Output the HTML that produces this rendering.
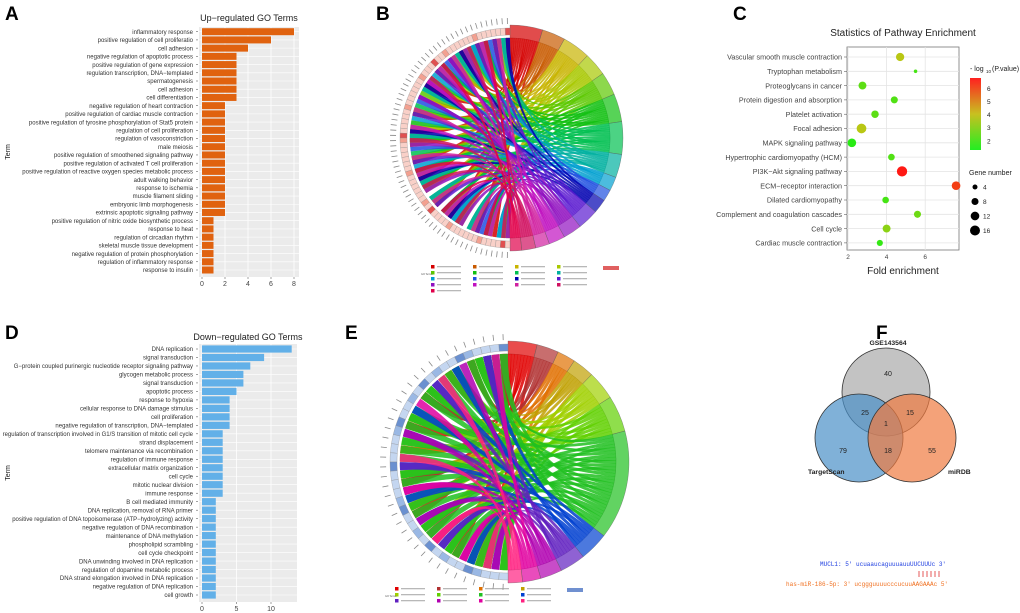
<!DOCTYPE html>
<html><head><meta charset="utf-8">
<style>
html,body{margin:0;padding:0;background:#fff;}
svg{display:block;font-family:"Liberation Sans",Arial,sans-serif;}
</style></head>
<body>
<svg id="fig" width="1020" height="613" viewBox="0 0 1020 613" xmlns="http://www.w3.org/2000/svg"></svg>
<script>
// ---------- Panel A data ----------
const upTerms = ["inflammatory response","positive regulation of cell proliferatio","cell adhesion","negative regulation of apoptotic process","positive regulation of gene expression","regulation transcription, DNA\u2212templated","spermatogenesis","cell adhesion","cell differentiation","negative regulation of heart contraction","positive regulation of cardiac muscle contraction","positive regulation of tyrosine phosphorylation of Stat5 protein","regulation of cell proliferation","regulation of vasoconstriction","male meiosis","positive regulation of smoothened signaling pathway","positive regulation of activated T cell proliferation","positive regulation of reactive oxygen species metabolic process","adult walking behavior","response to ischemia","muscle filament sliding","embryonic limb morphogenesis","extrinsic apoptotic signaling pathway","positive regulation of nitric oxide biosynthetic process","response to heat","regulation of circadian rhythm","skeletal muscle tissue development","negative regulation of protein phosphorylation","regulation of inflammatory response","response to insulin"];
const upCounts = [8,6,4,3,3,3,3,3,3,2,2,2,2,2,2,2,2,2,2,2,2,2,2,1,1,1,1,1,1,1];
const upTicks = [0,2,4,6,8];
// ---------- Panel D data ----------
const downTerms = ["DNA replication","signal transduction","G\u2212protein coupled purinergic nucleotide receptor signaling pathway","glycogen metabolic process","signal transduction","apoptotic process","response to hypoxia","cellular response to DNA damage stimulus","cell proliferation","negative regulation of transcription, DNA\u2212templated","regulation of transcription involved in G1/S transition of mitotic cell cycle","strand displacement","telomere maintenance via recombination","regulation of immune response","extracellular matrix organization","cell cycle","mitotic nuclear division","immune response","B cell mediated immunity","DNA replication, removal of RNA primer","positive regulation of DNA topoisomerase (ATP\u2212hydrolyzing) activity","negative regulation of DNA recombination","maintenance of DNA methylation","phospholipid scrambling","cell cycle checkpoint","DNA unwinding involved in DNA replication","regulation of dopamine metabolic process","DNA strand elongation involved in DNA replication","negative regulation of DNA replication","cell growth"];
const downCounts = [13,9,7,6,6,5,4,4,4,4,3,3,3,3,3,3,3,3,2,2,2,2,2,2,2,2,2,2,2,2];
const downTicks = [0,5,10];
// ---------- Panel C data ----------
const pathways = ["Vascular smooth muscle contraction","Tryptophan metabolism","Proteoglycans in cancer","Protein digestion and absorption","Platelet activation","Focal adhesion","MAPK signaling pathway","Hypertrophic cardiomyopathy (HCM)","PI3K\u2212Akt signaling pathway","ECM\u2212receptor interaction","Dilated cardiomyopathy","Complement and coagulation cascades","Cell cycle","Cardiac muscle contraction"];
const foldEnrich = [4.7,5.5,2.75,4.4,3.4,2.7,2.2,4.25,4.8,7.6,3.95,5.6,4.0,3.65];
const geneNum = [11,2,10,8,9,15,12,7,17,12,7,8,10,6];
const negLogP = [3.8,1.8,2.2,2.0,2.2,3.8,1.3,2.0,6.8,6.2,1.8,2.5,3.0,1.5];
const foldTicks = [2,4,6];
const colorTicks = [2,3,4,5,6];
const sizeTicks = [4,8,12,16];
// ---------- Chord data ----------
const chordBCounts = [14,10,12,10,10,12,14,10,6,5,6,9,8,7,6,6,5];
const chordBColors = ["#d40000","#c85a00","#c8b400","#a8c800","#5cc800","#10c010","#00c050","#00b0a0","#00a0d0","#2050e0","#0000b0","#5a1ad0","#9010c0","#c010c0","#d020a0","#d01060","#e0004a"];
const chordECounts = [8,6,5,6,8,10,30,8,7,6,5,4];
const chordEColors = ["#e00000","#b03030","#e07000","#c0a000","#a0d000","#60d000","#20c020","#0040d0","#6020c0","#b000b0","#e000a0","#ff2080"];
// ---------- Venn data ----------
const vennSets = ["GSE143564","TargetScan","miRDB"];
const vennValues = [40,25,15,1,79,18,55];

const NS="http://www.w3.org/2000/svg";
const svg=document.getElementById('fig');
function mk(tag,attrs,parent){const e=document.createElementNS(NS,tag);for(const k in attrs)e.setAttribute(k,attrs[k]);(parent||svg).appendChild(e);return e;}
function txt(x,y,s,attrs,parent){const t=mk('text',Object.assign({x:x,y:y},attrs||{}),parent);t.textContent=s;return t;}

// ---- Panel letters
[["A",5,20],["B",376,20],["C",733,20],["D",5,339],["E",345,339],["F",876,339]].forEach(p=>{
  const t=txt(p[1],p[2],p[0],{"font-size":19,"font-weight":"bold",fill:"#000"});
  
  
});

// ---- Bar chart builder
function barChart(o){
  const g=mk('g',{});
  
  
  const bg=mk('rect',{x:o.x0,y:o.y0,width:o.x1-o.x0,height:o.y1-o.y0,fill:"#ebebeb"},g);
  
  
  const xs=v=>o.px0+v*o.ppu;
  const n=o.terms.length;
  const ys=i=>o.c0+i*(o.c1-o.c0)/(n-1);
  o.ticks.forEach(t=>{
    const gl=mk('line',{x1:xs(t),x2:xs(t),y1:o.y0,y2:o.y1,stroke:"#fff","stroke-width":0.8},g);
    
    
    const tl=txt(xs(t),o.y1+9,String(t),{"font-size":7,"text-anchor":"middle",fill:"#444"},g);
    
    
    mk('line',{x1:xs(t),x2:xs(t),y1:o.y1,y2:o.y1+2,stroke:"#444","stroke-width":0.5},g);
  });
  for(let i=0;i<n;i++){
    mk('line',{x1:o.x0,x2:o.x1,y1:ys(i),y2:ys(i),stroke:"#fff","stroke-width":0.6},g);
    const b=mk('rect',{x:xs(0),y:ys(i)-o.bh/2,width:xs(o.counts[i])-xs(0),height:o.bh,fill:o.color},g);
    
    
    const l=txt(o.x0-6,ys(i)+2.2,o.terms[i],{"font-size":6,"text-anchor":"end",fill:"#333"},g);
    
    
    mk('line',{x1:o.x0-3,x2:o.x0-1,y1:ys(i),y2:ys(i),stroke:"#444","stroke-width":0.5},g);
  }
  const ti=txt((o.x0+o.x1)/2,o.ty,o.title,{"font-size":9,"text-anchor":"middle",fill:"#222"},g);
  
  
  const ya=txt(0,0,"Term",{"font-size":7,"text-anchor":"middle",fill:"#222",transform:`translate(10,${(o.y0+o.y1)/2}) rotate(-90)`},g);
  
  
}
barChart({name:"up-regulated-go-chart",terms:upTerms,counts:upCounts,ticks:upTicks,x0:199,x1:299,y0:27,y1:277,px0:202,ppu:11.5,c0:31.7,c1:270,bh:7,color:"#e0620f",title:"Up\u2212regulated GO Terms",ty:21});
barChart({name:"down-regulated-go-chart",terms:downTerms,counts:downCounts,ticks:downTicks,x0:199,x1:297,y0:344,y1:602,px0:202,ppu:6.9,c0:349,c1:595,bh:7.2,color:"#62b0e8",title:"Down\u2212regulated GO Terms",ty:340});

// ---- Panel C bubble chart
(function(){
  const g=mk('g',{});
  
  
  const x0=847,x1=959,y0=47,y1=250;
  const xs=v=>848+(v-2)*19.3;
  const ys=i=>57+i*14.3;
  const fr=mk('rect',{x:x0,y:y0,width:x1-x0,height:y1-y0,fill:"#fff",stroke:"#777","stroke-width":0.8},g);
  
  
  foldTicks.forEach(t=>{
    mk('line',{x1:xs(t),x2:xs(t),y1:y0,y2:y1,stroke:"#e4e4e4","stroke-width":0.8},g);
    const tl=txt(xs(t),y1+9,String(t),{"font-size":6.5,"text-anchor":"middle",fill:"#444"},g);
    
    
  });
  function col(v){const t=Math.max(0,Math.min(1,(v-1.3)/(6.8-1.3)));
    let r,gg;if(t<0.5){r=Math.round(40+t*2*160);gg=Math.round(235-t*2*40);}else{r=Math.round(200+(t-0.5)*2*55);gg=Math.round(195-(t-0.5)*2*170);}
    return `rgb(${r},${gg},20)`;}
  pathways.forEach((p,i)=>{
    mk('line',{x1:x0,x2:x1,y1:ys(i),y2:ys(i),stroke:"#e4e4e4","stroke-width":0.8},g);
    const l=txt(x0-5,ys(i)+2.7,p,{"font-size":7.2,"text-anchor":"end",fill:"#444"},g);
    
    
    mk('line',{x1:x0-3,x2:x0,y1:ys(i),y2:ys(i),stroke:"#444","stroke-width":0.5},g);
  });
  pathways.forEach((p,i)=>{
    const c=mk('circle',{cx:xs(foldEnrich[i]),cy:ys(i),r:Math.sqrt(geneNum[i])*1.25,fill:col(negLogP[i])},g);
    
    
  });
  const t=txt(903,36,"Statistics of Pathway Enrichment",{"font-size":10,"text-anchor":"middle",fill:"#222"},g);
  
  
  const xa=txt(903,274,"Fold enrichment",{"font-size":10,"text-anchor":"middle",fill:"#222"},g);
  
  
  const lt=txt(970,71,"- log",{"font-size":7,fill:"#222"},g);
  
  
  txt(986,73,"10",{"font-size":4.5,fill:"#222"},g);
  txt(992,71,"(P.value)",{"font-size":7,fill:"#222"},g);
  const defs=mk('defs',{},g);
  const lg=mk('linearGradient',{id:"cg",x1:0,y1:1,x2:0,y2:0},defs);
  mk('stop',{offset:"0",'stop-color':"#22ee22"},lg);
  mk('stop',{offset:"0.5",'stop-color':"#c8c020"},lg);
  mk('stop',{offset:"1",'stop-color':"#ff2020"},lg);
  const cb=mk('rect',{x:970,y:78,width:11,height:72,fill:"url(#cg)"},g);
  
  
  colorTicks.forEach(v=>{
    const y=150-(v-1.3)/(6.8-1.3)*72;
    const tl=txt(987,y+2.5,String(v),{"font-size":6.5,fill:"#222"},g);
    
    
  });
  const st=txt(969,175,"Gene number",{"font-size":7,fill:"#222"},g);
  
  
  sizeTicks.forEach((v,i)=>{
    const y=187+i*14.5;
    const c=mk('circle',{cx:975,cy:y,r:Math.sqrt(v)*1.25,fill:"#000"},g);
    
    
    txt(983,y+2.5,String(v),{"font-size":6.5,fill:"#222"},g);
  });
})();

// ---- Chord builder
function chord(o){
  const g=mk('g',{});
  
  
  const cx=o.cx,cy=o.cy,R=o.r;
  const P=(a,r)=>[cx+r*Math.cos(a),cy+r*Math.sin(a)];
  const total=o.counts.reduce((a,b)=>a+b,0);
  const N=o.genes;
  const ga=k=>-Math.PI/2-(k+0.5)/N*Math.PI;
  const gw=Math.PI/N;
  let a=-Math.PI/2;
  const ribbons=[];
  o.counts.forEach((c,i)=>{
    const span=c/total*Math.PI;
    const a0=a,a1=a+span;a=a1;
    const col=o.colors[i];
    const p0=P(a0,R),p1=P(a1,R),q0=P(a0,R+13),q1=P(a1,R+13);
    const seg=mk('path',{d:`M${p0} A${R},${R} 0 0 1 ${p1} L${q1} A${R+13},${R+13} 0 0 0 ${q0}Z`,fill:col,"fill-opacity":0.7,stroke:"#555","stroke-width":0.3},g);
    
    
    for(let j=0;j<c;j++){
      const b0=a0+j*span/c,b1=a0+(j+1)*span/c;
      const k=(i*7+j*11)%N;
      ribbons.push([b0,b1,ga(k)-gw*0.45,ga(k)+gw*0.45,col]);
    }
  });
  ribbons.forEach((rb,idx)=>{
    const p0=P(rb[0],R),p1=P(rb[1],R),g0=P(rb[2],R),g1=P(rb[3],R);
    const d=`M${p0} A${R},${R} 0 0 1 ${p1} Q${cx},${cy} ${g0} A${R},${R} 0 0 1 ${g1} Q${cx},${cy} ${p0}Z`;
    const r=mk('path',{d:d,fill:rb[4],"fill-opacity":0.85,stroke:rb[4],"stroke-width":0.3},g);
    
    
  });
  for(let k=0;k<N;k++){
    const a0=ga(k)-gw/2,a1=ga(k)+gw/2;
    const r1=R+3,r2=R+10;
    const p0=P(a0,r1),p1=P(a1,r1),q0=P(a0,r2),q1=P(a1,r2);
    const f=o.geneFill(k);
    const box=mk('path',{d:`M${p0} A${r1},${r1} 0 0 1 ${p1} L${q1} A${r2},${r2} 0 0 0 ${q0}Z`,fill:f,stroke:"#888","stroke-width":0.3},g);
    
    
    const t0=P(ga(k),R+14),t1=P(ga(k),R+20);
    mk('line',{x1:t0[0],y1:t0[1],x2:t1[0],y2:t1[1],stroke:"#888","stroke-width":0.8},g);
  }
  const lgd=mk('g',{},g);
  
  
  o.colors.forEach((c,i)=>{
    const col=i%4,row=Math.floor(i/4);
    const x=o.lx+col*42,y=o.ly+row*6;
    mk('rect',{x:x,y:y,width:3.5,height:3.5,fill:c},lgd);
    mk('rect',{x:x+6,y:y+1.3,width:24,height:0.9,fill:"#999"},lgd);
  });
  txt(o.lx-10,o.ly+10,"GO Terms",{"font-size":2.5,fill:"#555"},lgd);
  mk('rect',{x:o.lx+172,y:o.ly+1,width:16,height:4,fill:o.scaleFill},lgd);
}
chord({name:"go-chord-diagram-up",cx:510,cy:138,r:100,counts:chordBCounts,colors:chordBColors,genes:70,
  geneFill:k=>((k*13)%17===0?"#e05050":((k*5)%7===0?"#f3a090":"#f9d0c8")),lx:431,ly:265,scaleFill:"#e06060"});
chord({name:"go-chord-diagram-down",cx:508,cy:462,r:108,counts:chordECounts,colors:chordEColors,genes:40,
  geneFill:k=>((k*7)%5===0?"#6a90d0":((k*3)%4===0?"#9ab8e4":"#c4d6f0")),lx:395,ly:587,scaleFill:"#7090d0"});

// ---- Venn
(function(){
  const g=mk('g',{});
  
  
  const circles=[[886,392,"#aaaaaa"],[859,438,"#4a90c8"],[912,438,"#f07a40"]];
  circles.forEach((c,i)=>{
    const e=mk('circle',{cx:c[0],cy:c[1],r:44,fill:c[2],"fill-opacity":0.7,stroke:"#333","stroke-width":0.8},g);
    
    
  });
  const lbl=[[888,345,"middle"],[808,474,"start"],[948,474,"start"]];
  vennSets.forEach((s,i)=>{
    const t=txt(lbl[i][0],lbl[i][1],s,{"font-size":6.8,"font-weight":"bold","text-anchor":lbl[i][2],fill:"#222"},g);
    
    
  });
  const pos=[[888,376],[865,415],[910,415],[886,426],[843,453],[888,453],[932,453]];
  vennValues.forEach((v,i)=>{
    const t=txt(pos[i][0],pos[i][1],String(v),{"font-size":7,"text-anchor":"middle",fill:"#222"},g);
    
    
  });
  const s1=txt(820,566,"MUCL1:  5' ucuaaucaguuuauuUUCUUUc 3'",{"font-size":6,"font-family":"Liberation Mono,monospace",fill:"#2040e0"},g);
  
  
  for(let i=0;i<6;i++){mk('line',{x1:919+i*4,x2:919+i*4,y1:571,y2:577,stroke:"#e03030","stroke-width":0.8},g);}
  const s2=txt(786,586,"has-miR-186-5p:  3' ucggguuuucccucuuAAGAAAc 5'",{"font-size":6,"font-family":"Liberation Mono,monospace",fill:"#f07020"},g);
  
  
})();
</script>
</body></html>
